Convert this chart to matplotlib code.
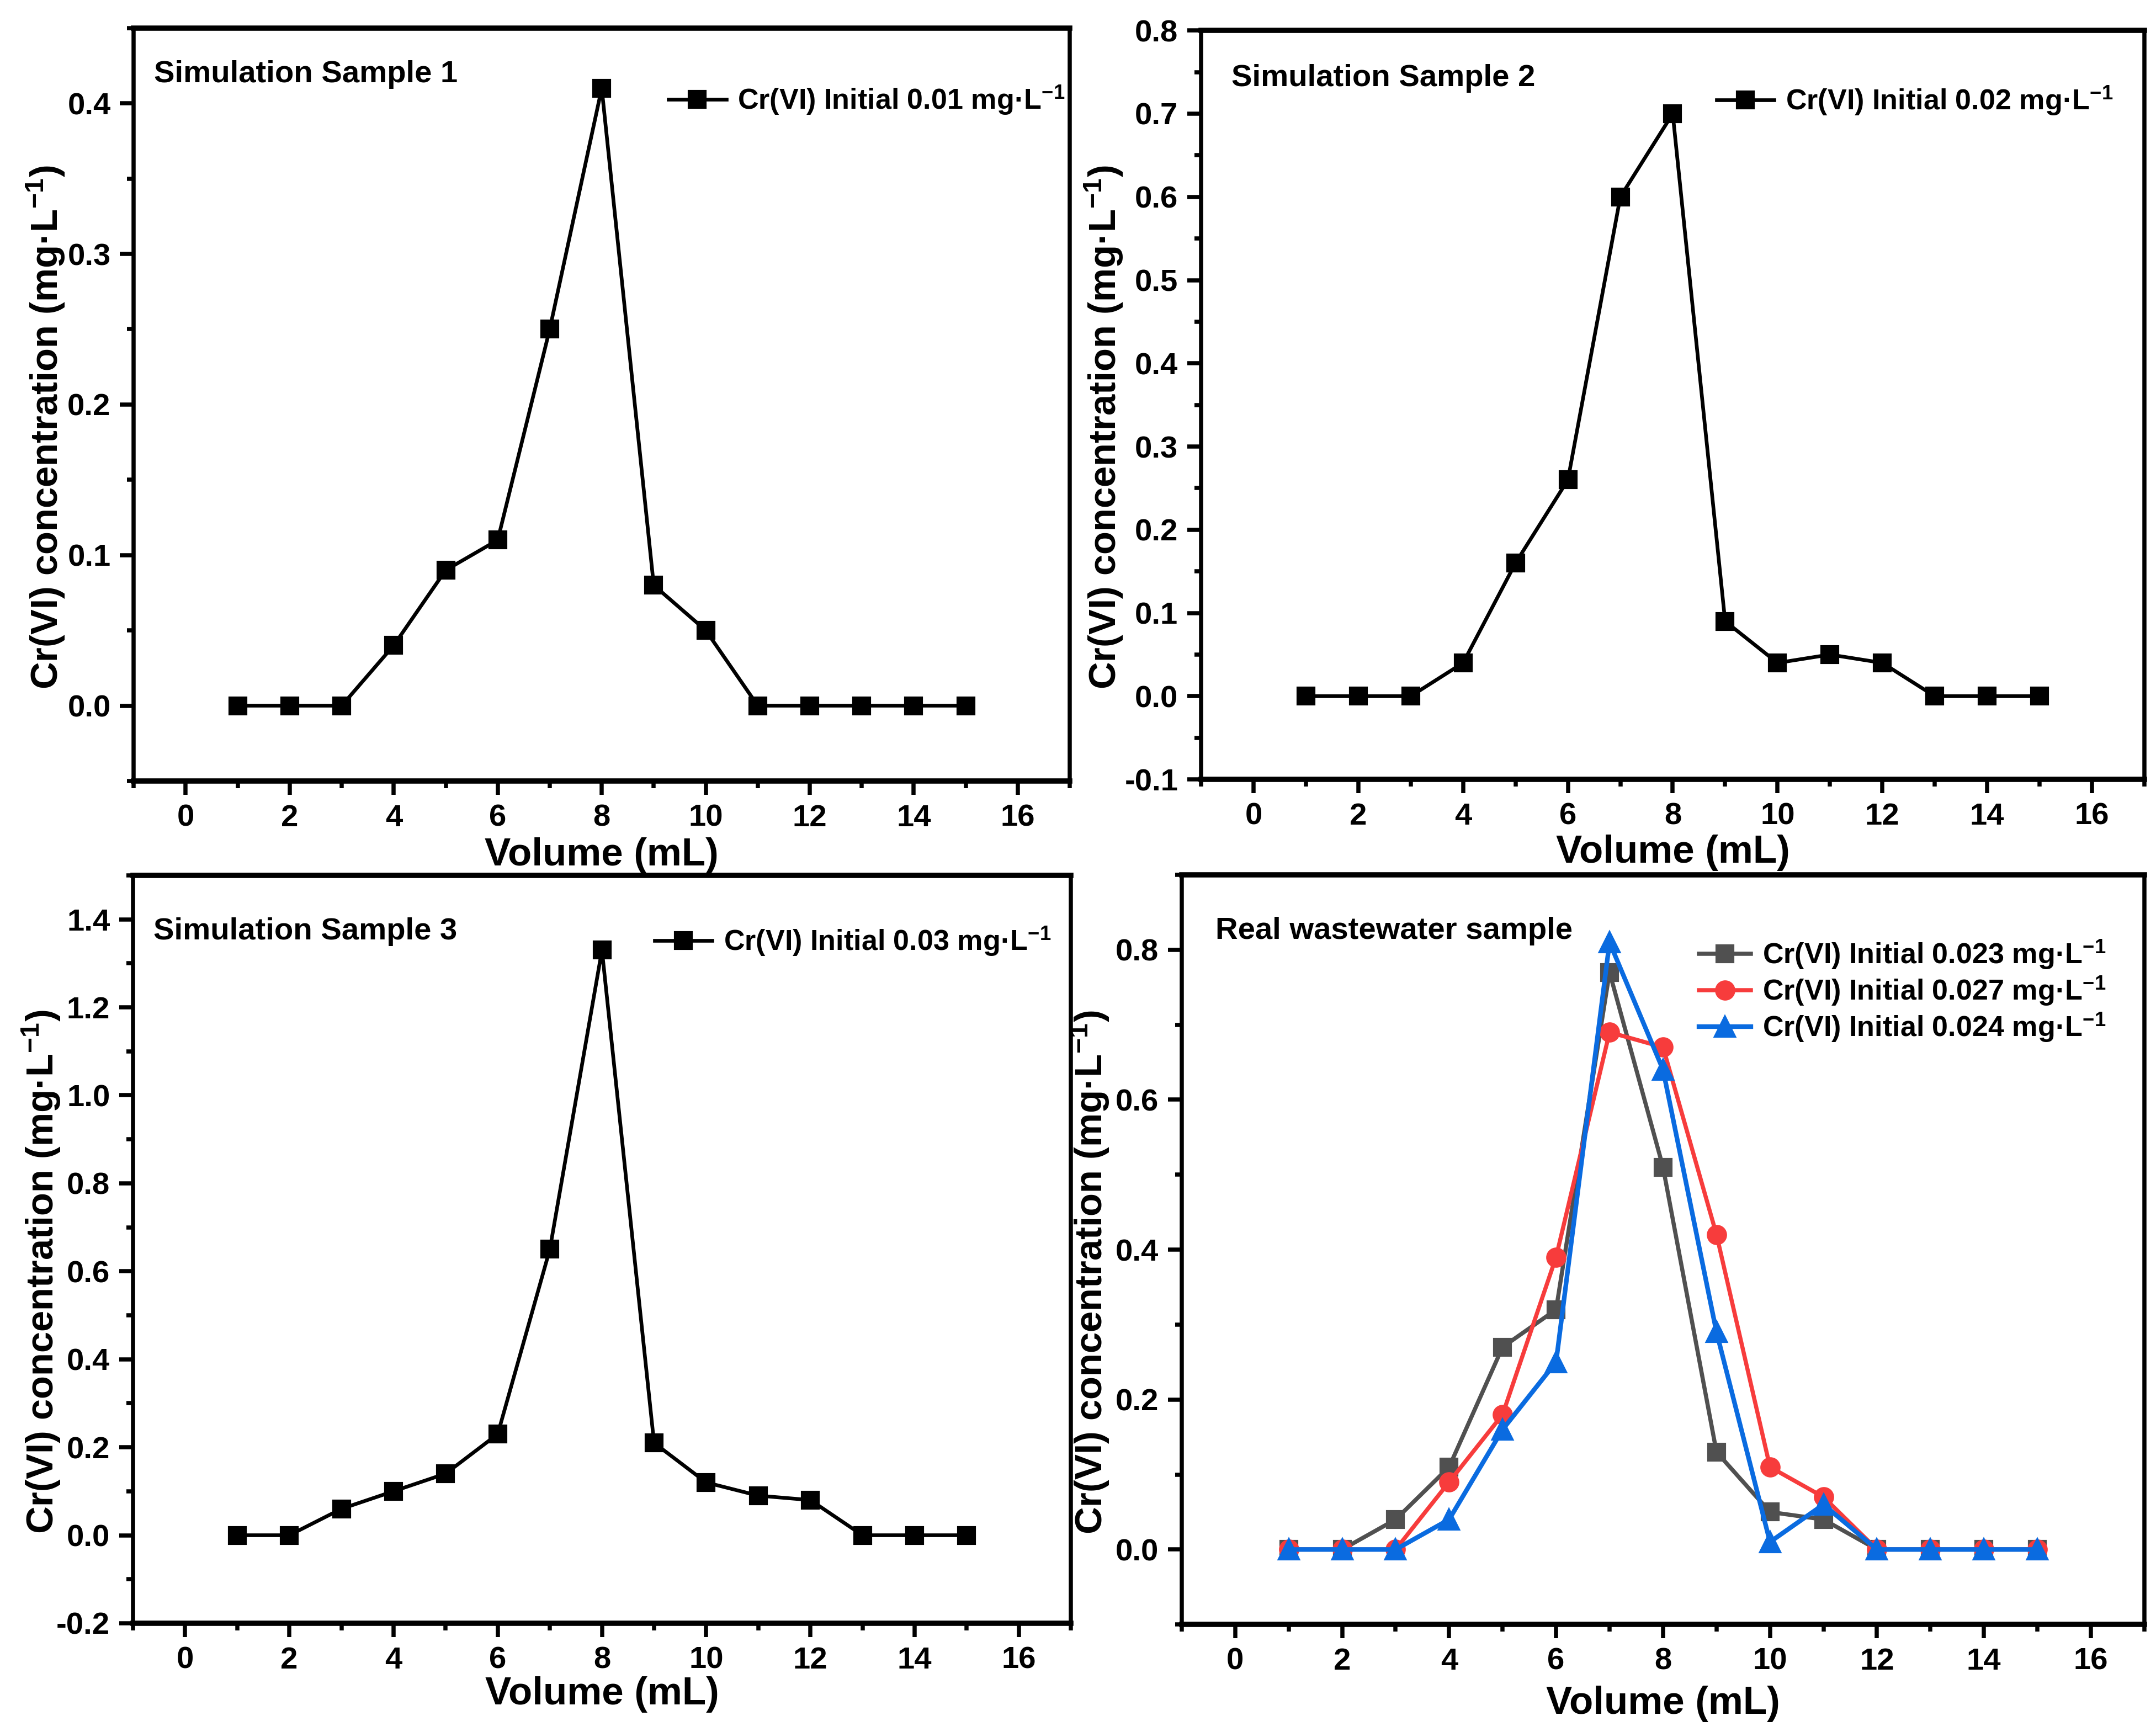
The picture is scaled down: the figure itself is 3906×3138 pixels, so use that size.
import matplotlib
matplotlib.use("Agg")
import matplotlib.pyplot as plt
from matplotlib.ticker import MultipleLocator, AutoMinorLocator

plt.rcParams['font.family'] = ['Liberation Sans', 'DejaVu Sans']
plt.rcParams['axes.unicode_minus'] = False
plt.rcParams['mathtext.fontset'] = 'custom'
plt.rcParams['mathtext.rm'] = 'Liberation Sans:bold'
plt.rcParams['mathtext.default'] = 'rm'

# data
volume = list(range(1, 16))
sample1 = [0, 0, 0, 0.04, 0.09, 0.11, 0.25, 0.41, 0.08, 0.05, 0, 0, 0, 0, 0]
sample2 = [0, 0, 0, 0.04, 0.16, 0.26, 0.60, 0.70, 0.09, 0.04, 0.05, 0.04, 0, 0, 0]
sample3 = [0, 0, 0.06, 0.10, 0.14, 0.23, 0.65, 1.33, 0.21, 0.12, 0.09, 0.08, 0, 0, 0]
real_023 = [0, 0, 0.04, 0.11, 0.27, 0.32, 0.77, 0.51, 0.13, 0.05, 0.04, 0, 0, 0, 0]
real_027 = [0, 0, 0, 0.09, 0.18, 0.39, 0.69, 0.67, 0.42, 0.11, 0.07, 0, 0, 0, 0]
real_024 = [0, 0, 0, 0.04, 0.16, 0.25, 0.81, 0.64, 0.29, 0.01, 0.06, 0, 0, 0, 0]

unit = "mg·L$^{-1}$"
ylabel = "Cr(VI) concentration (" + unit + ")"

fig = plt.figure(figsize=(3906 / 300, 3138 / 300), dpi=300)

ax_tl = fig.add_axes([0.0620, 0.5491, 0.4342, 0.4347])
ax_tr = fig.add_axes([0.5571, 0.5500, 0.4375, 0.4324])
ax_bl = fig.add_axes([0.0617, 0.0628, 0.4350, 0.4318])
ax_br = fig.add_axes([0.5481, 0.0621, 0.4465, 0.4328])


def style_axes(ax, ylim, ymajor, title, title_xy, ylab_x, xlab_y):
    ax.set_xlim(-1, 17)
    ax.set_ylim(*ylim)
    ax.xaxis.set_major_locator(MultipleLocator(2))
    ax.xaxis.set_minor_locator(AutoMinorLocator(2))
    ax.yaxis.set_major_locator(MultipleLocator(ymajor))
    ax.yaxis.set_minor_locator(AutoMinorLocator(2))
    ax.yaxis.set_major_formatter(plt.FormatStrFormatter('%.1f'))
    for side in ['top', 'bottom']:
        ax.spines[side].set_linewidth(2.3)
    for side in ['left', 'right']:
        ax.spines[side].set_linewidth(1.8)
    ax.tick_params(which='both', direction='out', top=False, right=False, width=1.8)
    ax.tick_params(which='major', length=6, labelsize=13.5)
    ax.tick_params(which='minor', length=3)
    ax.tick_params(axis='x', which='major', pad=4)
    ax.tick_params(axis='y', which='major', pad=4)
    for lab in ax.get_xticklabels() + ax.get_yticklabels():
        lab.set_fontweight('bold')
    ax.set_xlabel("Volume (mL)", fontsize=17, fontweight='bold')
    ax.set_ylabel(ylabel, fontsize=16.5, fontweight='bold')
    ax.xaxis.set_label_coords(0.5, xlab_y)
    ax.xaxis.label.set_va('center')
    ax.yaxis.set_label_coords(ylab_x, 0.47)
    ax.yaxis.label.set_va('center')
    ax.text(title_xy[0], title_xy[1], title, transform=ax.transAxes,
            fontsize=13.5, fontweight='bold', ha='left', va='center')


def add_legend(ax, anchor, handlelength=2.0):
    ax.legend(loc='center right', bbox_to_anchor=anchor, frameon=False,
              borderpad=0, borderaxespad=0, handlelength=handlelength,
              handletextpad=0.4, labelspacing=0.1,
              prop={'weight': 'bold', 'size': 12.5})


# Simulation Sample 1
ax_tl.plot(volume, sample1, color='black', marker='s', markersize=7.2, lw=1.6,
           label="Cr(VI) Initial 0.01 " + unit)
style_axes(ax_tl, (-0.05, 0.45), 0.1, "Simulation Sample 1", (0.022, 0.938), -0.094, -0.099)
add_legend(ax_tl, (0.995, 0.904))

# Simulation Sample 2
ax_tr.plot(volume, sample2, color='black', marker='s', markersize=7.2, lw=1.6,
           label="Cr(VI) Initial 0.02 " + unit)
style_axes(ax_tr, (-0.1, 0.8), 0.1, "Simulation Sample 2", (0.032, 0.936), -0.103, -0.098)
add_legend(ax_tr, (0.967, 0.906))

# Simulation Sample 3
ax_bl.plot(volume, sample3, color='black', marker='s', markersize=7.2, lw=1.6,
           label="Cr(VI) Initial 0.03 " + unit)
style_axes(ax_bl, (-0.2, 1.5), 0.2, "Simulation Sample 3", (0.022, 0.925), -0.098, -0.095)
add_legend(ax_bl, (0.979, 0.912))

# Real wastewater sample
ax_br.plot(volume, real_023, color='#505050', marker='s', markersize=7.2, lw=1.8,
           label="Cr(VI) Initial 0.023 " + unit)
ax_br.plot(volume, real_027, color='#F73C3C', marker='o', markersize=7.8, lw=1.8,
           label="Cr(VI) Initial 0.027 " + unit)
ax_br.plot(volume, real_024, color='#0A6BE0', marker='^', markersize=8.8, lw=2.0,
           label="Cr(VI) Initial 0.024 " + unit)
style_axes(ax_br, (-0.1, 0.9), 0.2, "Real wastewater sample", (0.035, 0.925), -0.095, -0.106)
add_legend(ax_br, (0.960, 0.845), handlelength=1.8)

fig.savefig("out.png", dpi=300)
